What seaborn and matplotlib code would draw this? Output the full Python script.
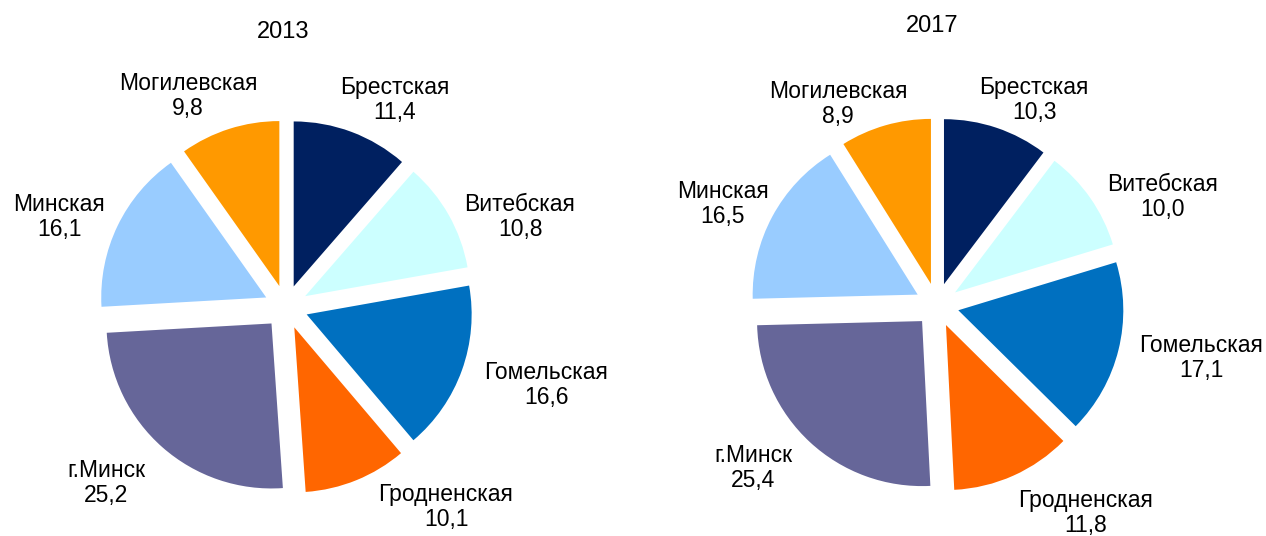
#!/usr/bin/env python3
"""
Two exploded pie charts: share of regions, 2013 vs 2017.
"""

import matplotlib

matplotlib.use("Agg")
import matplotlib.pyplot as plt
import seaborn as sns

sns.set_theme(style="white")
plt.rcParams["font.family"] = ["Liberation Sans", "DejaVu Sans"]

regions = [
    "Брестская",
    "Витебская",
    "Гомельская",
    "Гродненская",
    "г.Минск",
    "Минская",
    "Могилевская",
]
share_2013 = [11.4, 10.8, 16.6, 10.1, 25.2, 16.1, 9.8]
share_2017 = [10.3, 10.0, 17.1, 11.8, 25.4, 16.5, 8.9]
years = ["2013", "2017"]

palette = sns.color_palette(
    ["#002060", "#CCFFFF", "#0070C0", "#FF6600", "#666699", "#99CCFF", "#FF9900"]
)

# layout in pixels (figure is 1266 x 536)
W, H = 1266, 536
R_PX = 165
EXPLODE = 0.133
pie_layout = [
    {"cx": 286, "cy": 307, "title": (283, 32), "ax_left": 0},
    {"cx": 937, "cy": 305, "title": (932, 26), "ax_left": 633},
]
# label block centres relative to pie centre, pixels (x right, y down)
label_offsets = [
    [(109, -207), (234, -90), (260, 78), (160, 200), (-180, 176), (-227, -90), (-98, -211)],
    [(97, -205), (226, -108), (264, 53), (149, 208), (-184, 163), (-214, -101), (-99, -201)],
]


def fmt(value):
    return f"{value:.1f}".replace(".", ",")


fig = plt.figure(figsize=(W / 100, H / 100), dpi=100)

for i, values in enumerate([share_2013, share_2017]):
    lay = pie_layout[i]
    ax = fig.add_axes([lay["ax_left"] / W, 0, 633 / W, 1])
    ax.pie(
        values,
        colors=palette,
        startangle=90,
        counterclock=False,
        explode=[EXPLODE] * len(values),
        radius=1,
        wedgeprops={"linewidth": 0},
    )
    ax.set_aspect("auto")
    x0 = (lay["ax_left"] - lay["cx"]) / R_PX
    ax.set_xlim(x0, x0 + 633 / R_PX)
    ax.set_ylim((lay["cy"] - H) / R_PX, lay["cy"] / R_PX)
    ax.axis("off")

    for name, value, (dx, dy) in zip(regions, values, label_offsets[i]):
        ax.text(
            dx / R_PX,
            -dy / R_PX,
            f"{name}\n{fmt(value)}",
            ha="center",
            va="center",
            fontsize=16.5,
            linespacing=1.12,
            color="black",
        )

    tx, ty = lay["title"]
    ax.text(
        (tx - lay["cx"]) / R_PX,
        (lay["cy"] - ty) / R_PX,
        years[i],
        ha="center",
        va="center",
        fontsize=17,
        color="black",
    )

fig.savefig("out.png", dpi=100)
